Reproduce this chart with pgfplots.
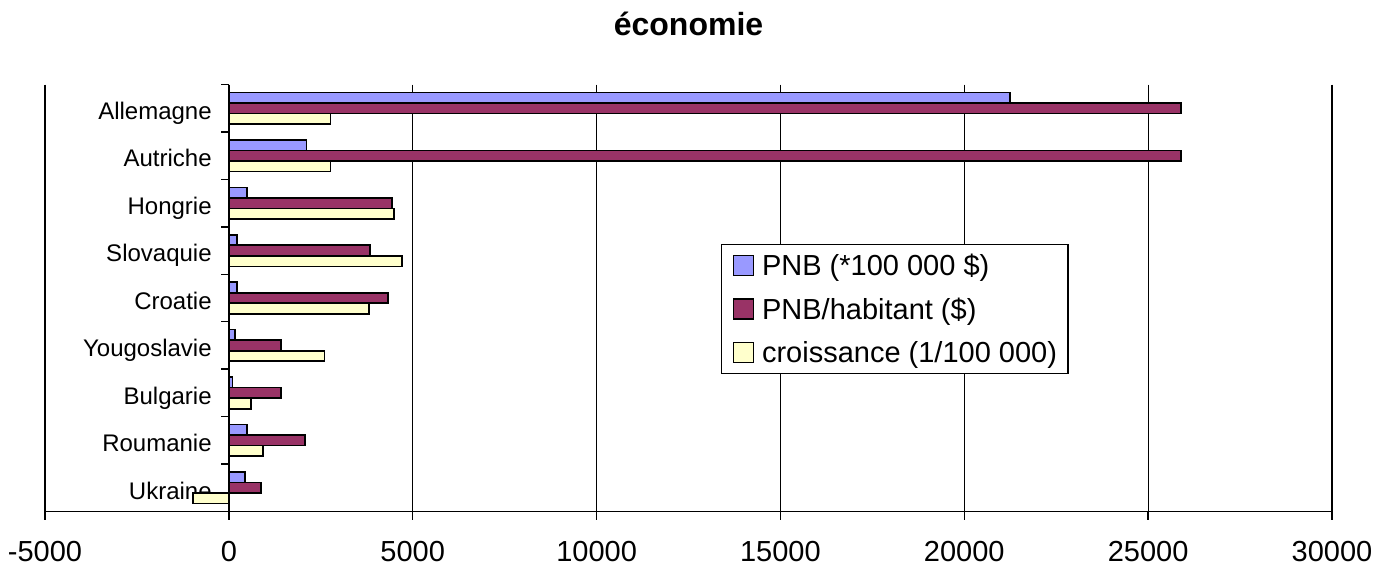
\documentclass[border=0pt]{standalone}
\usepackage{pgfplots}
\pgfplotsset{compat=1.18}
\usepackage{fontspec}
\setmainfont{Liberation Sans}
\usetikzlibrary{calc}
\definecolor{cA}{HTML}{9999FF}
\definecolor{cB}{HTML}{993366}
\definecolor{cC}{HTML}{FFFFCC}
\begin{document}
\begin{tikzpicture}
\begin{axis}[
  name=ax,
  scale only axis,
  width=1287pt, height=427pt,
  xmin=-5000, xmax=30000,
  ymin=-0.5, ymax=8.5,
  y dir=reverse,
  xbar,
  bar width=0.2222,
  axis x line=bottom,
  axis y line=middle,
  axis line style={-, line width=1.6pt, black},
  tick align=outside,
  major tick length=8pt,
  tick style={black, line width=1.4pt},
  xtick={-5000,0,...,30000},
  xticklabels={-5000,0,5000,10000,15000,20000,25000,30000},
  xticklabel style={font=\fontsize{29}{34}\selectfont, anchor=base, inner sep=0pt, yshift=-41.5pt},
  xmajorgrids=true,
  major grid style={black, line width=1.2pt},
  ytick=\empty,
  extra y ticks={0,1,2,3,4,5,6,7,8},
  extra y tick labels={Allemagne,Autriche,Hongrie,Slovaquie,Croatie,Yougoslavie,Bulgarie,Roumanie,Ukraine},
  extra y tick style={major tick length=0pt},
  yticklabel style={font=\fontsize{24}{28}\selectfont, anchor=base east, inner sep=0pt, xshift=-17pt, yshift=-11.3pt},
  title={\bfseries économie},
  title style={font=\fontsize{32}{38}\selectfont, anchor=base, at={(0.5,1)}, yshift=42.5pt, inner sep=0pt},
  legend style={at={(0.5253,0.6265)}, anchor=north west, draw=black, line width=1.2pt,
    inner xsep=11pt, inner ysep=10.5pt, row sep=22pt, column sep=8pt,
    font=\fontsize{29}{34}\selectfont,
    nodes={inner sep=0pt, text height=20pt, text depth=0pt, anchor=base west}},
  legend cell align=left,
  legend image code/.code={\draw[#1, line width=1.4pt] (0pt,0pt) rectangle (20pt,20pt);},
]
\addplot[fill=cA, draw=black, line width=1.6pt, bar shift=-0.2222]
  coordinates {(21250,0) (2110,1) (490,2) (217,3) (217,4) (163,5) (100,6) (497,7) (443,8)};
\addplot[fill=cB, draw=black, line width=1.6pt, bar shift=0]
  coordinates {(25900,0) (25900,1) (4433,2) (3844,3) (4333,4) (1411,5) (1411,6) (2070,7) (868,8)};
\addplot[fill=cC, draw=black, line width=1.6pt, bar shift=0.2222]
  coordinates {(2760,0) (2760,1) (4496,2) (4704,3) (3807,4) (2604,5) (597,6) (922,7) (-968,8)};
\legend{PNB (*100 000 \$),PNB/habitant (\$),croissance (1/100 000)}
% tick marks of the category axis, at the boundaries between categories
\draw[black, line width=1.4pt]
  (axis cs:0,-0.5) -- ++(-8pt,0pt) (axis cs:0,0.5) -- ++(-8pt,0pt)
  (axis cs:0,1.5) -- ++(-8pt,0pt) (axis cs:0,2.5) -- ++(-8pt,0pt)
  (axis cs:0,3.5) -- ++(-8pt,0pt) (axis cs:0,4.5) -- ++(-8pt,0pt)
  (axis cs:0,5.5) -- ++(-8pt,0pt) (axis cs:0,6.5) -- ++(-8pt,0pt)
  (axis cs:0,7.5) -- ++(-8pt,0pt);
\end{axis}
\pgfresetboundingbox
\path[use as bounding box] ($(ax.south west)+(-45pt,-54.5pt)$) rectangle ($(ax.north east)+(57pt,84.5pt)$);
\end{tikzpicture}
\end{document}
